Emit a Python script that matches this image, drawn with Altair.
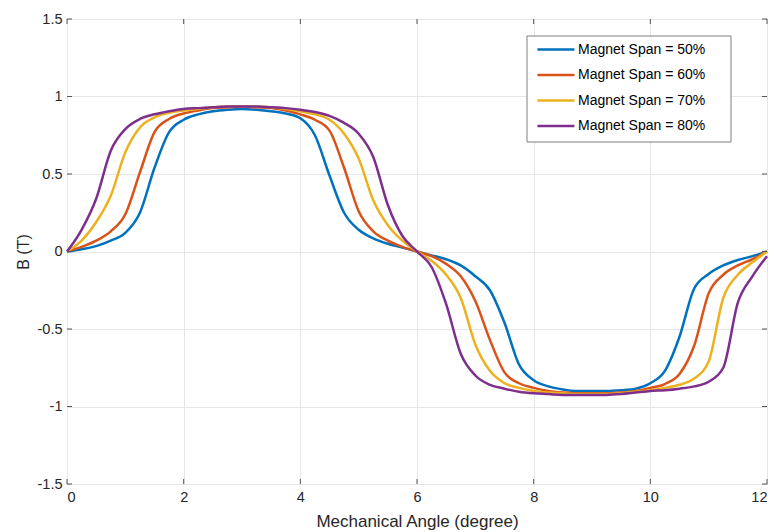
import altair as alt
import pandas as pd

FONT = "Liberation Sans"
AXC = "#262626"
BOXC = "#555555"

angle = [0, 0.25, 0.5, 0.75, 1, 1.25, 1.5, 1.75, 2, 2.25, 2.5, 2.75, 3, 3.25, 3.5, 3.75,
         4, 4.25, 4.5, 4.75, 5, 5.25, 5.5, 5.75, 6, 6.25, 6.5, 6.75, 7, 7.25, 7.5, 7.75,
         8, 8.25, 8.5, 8.75, 9, 9.25, 9.5, 9.75, 10, 10.25, 10.5, 10.75, 11, 11.25, 11.5,
         11.75, 12]

span50 = [0, 0.015, 0.035, 0.07, 0.12, 0.25, 0.54, 0.77, 0.85, 0.885, 0.905, 0.915, 0.92,
          0.915, 0.905, 0.89, 0.86, 0.75, 0.49, 0.25, 0.14, 0.085, 0.05, 0.025, 0,
          -0.025, -0.05, -0.09, -0.16, -0.25, -0.46, -0.73, -0.83, -0.87, -0.89, -0.9, -0.9,
          -0.9, -0.895, -0.885, -0.85, -0.77, -0.55, -0.24, -0.145, -0.09, -0.055, -0.03, 0]

span60 = [0, 0.03, 0.07, 0.13, 0.24, 0.51, 0.77, 0.855, 0.89, 0.91, 0.925, 0.93, 0.935,
          0.93, 0.925, 0.91, 0.885, 0.85, 0.78, 0.54, 0.26, 0.13, 0.07, 0.03, 0,
          -0.03, -0.08, -0.16, -0.32, -0.57, -0.78, -0.85, -0.88, -0.9, -0.91, -0.915, -0.915,
          -0.915, -0.91, -0.9, -0.88, -0.855, -0.79, -0.61, -0.27, -0.15, -0.09, -0.05, 0]

span70 = [0, 0.07, 0.19, 0.36, 0.64, 0.8, 0.865, 0.895, 0.91, 0.92, 0.93, 0.935, 0.935,
          0.935, 0.93, 0.92, 0.905, 0.885, 0.85, 0.76, 0.6, 0.33, 0.17, 0.07, 0,
          -0.06, -0.15, -0.3, -0.6, -0.77, -0.85, -0.88, -0.9, -0.91, -0.915, -0.92, -0.92,
          -0.92, -0.915, -0.905, -0.895, -0.88, -0.86, -0.82, -0.71, -0.3, -0.15, -0.07, 0]

span80 = [0, 0.14, 0.34, 0.65, 0.79, 0.855, 0.885, 0.905, 0.92, 0.925, 0.93, 0.935, 0.935,
          0.935, 0.93, 0.925, 0.915, 0.9, 0.875, 0.83, 0.76, 0.61, 0.3, 0.1, 0,
          -0.1, -0.34, -0.66, -0.8, -0.86, -0.885, -0.905, -0.915, -0.92, -0.925, -0.925, -0.925,
          -0.925, -0.92, -0.91, -0.9, -0.895, -0.885, -0.87, -0.84, -0.75, -0.33, -0.16, -0.03]

series_names = ["Magnet Span = 50%", "Magnet Span = 60%", "Magnet Span = 70%", "Magnet Span = 80%"]
series_colors = ["#0072BD", "#D95319", "#EDB120", "#7E2F8E"]
x_ticks = [0, 2, 4, 6, 8, 10, 12]
y_ticks = [-1.5, -1, -0.5, 0, 0.5, 1, 1.5]

rows = []
for name, vals in zip(series_names, [span50, span60, span70, span80]):
    for a, b in zip(angle, vals):
        rows.append({"angle": a, "B": b, "span": name})
df = pd.DataFrame(rows)

W, H = 700, 465
LX, LY, LW, LH = 460, 17, 204, 106  # legend frame (layout)

xscale = alt.Scale(domain=[0, 12], nice=False, zero=False)
yscale = alt.Scale(domain=[-1.5, 1.5], nice=False, zero=False)

xaxis = alt.Axis(values=x_ticks, format="d", title="Mechanical Angle (degree)",
                 grid=True, gridColor="#e6e6e6", tickSize=0, domain=False,
                 labelPadding=6, labelFontSize=14.5, labelFont=FONT, labelColor=AXC,
                 titleFontSize=17, titleFont=FONT, titleFontWeight="normal",
                 titleColor=AXC, titleY=42, titleBaseline="alphabetic")
yaxis = alt.Axis(values=y_ticks,
                 labelExpr="datum.value == 0 ? '0' : (datum.value < 0 ? '-' : '') + toString(abs(datum.value))",
                 title="B (T)", grid=True, gridColor="#e6e6e6", tickSize=0, domain=False,
                 labelPadding=5, labelFontSize=14.5, labelFont=FONT, labelColor=AXC,
                 titleFontSize=16, titleFont=FONT, titleFontWeight="normal",
                 titleColor=AXC, titleX=-44, titleY=H / 2, titleAngle=-90,
                 titleAlign="center", titleBaseline="middle")

lines = alt.Chart(df).mark_line(strokeWidth=2.5, interpolate="monotone").encode(
    x=alt.X("angle:Q", scale=xscale, axis=xaxis),
    y=alt.Y("B:Q", scale=yscale, axis=yaxis),
    color=alt.Color("span:N", scale=alt.Scale(domain=series_names, range=series_colors),
                    legend=alt.Legend(title=None, orient="none", legendX=LX, legendY=LY,
                                      symbolType="M-0.5,0H5.5", symbolSize=152,
                                      symbolStrokeWidth=2.5, labelFontSize=14, labelFont=FONT,
                                      labelColor="#000000", padding=6, rowPadding=10.5,
                                      labelOffset=30)),
)

frame = alt.Chart(pd.DataFrame({"k": [0]})).mark_rect(
    fill="white", stroke="#7f7f7f", strokeWidth=1).encode(
    x=alt.value(LX), x2=alt.value(LX + LW), y=alt.value(LY), y2=alt.value(LY + LH))

xt = pd.DataFrame({"angle": x_ticks})
yt = pd.DataFrame({"B": y_ticks})

tick_bottom = alt.Chart(xt).mark_rule(color=BOXC, strokeWidth=1).encode(
    x=alt.X("angle:Q", scale=xscale, axis=xaxis), y=alt.value(H), y2=alt.value(H - 5))
tick_top = alt.Chart(xt).mark_rule(color=BOXC, strokeWidth=1).encode(
    x=alt.X("angle:Q", scale=xscale, axis=xaxis), y=alt.value(0), y2=alt.value(5))
tick_left = alt.Chart(yt).mark_rule(color=BOXC, strokeWidth=1).encode(
    y=alt.Y("B:Q", scale=yscale, axis=yaxis), x=alt.value(0), x2=alt.value(5))
tick_right = alt.Chart(yt).mark_rule(color=BOXC, strokeWidth=1).encode(
    y=alt.Y("B:Q", scale=yscale, axis=yaxis), x=alt.value(W), x2=alt.value(W - 5))

chart = alt.layer(lines, frame, tick_bottom, tick_top, tick_left, tick_right).properties(
    width=W, height=H,
    autosize=alt.AutoSizeParams(type="none"),
    padding={"left": 67, "top": 19, "right": 9, "bottom": 48},
    background="white",
).configure_view(stroke=BOXC, strokeWidth=1)

chart.save("out.html", embed_options={"renderer": "svg", "actions": False})
